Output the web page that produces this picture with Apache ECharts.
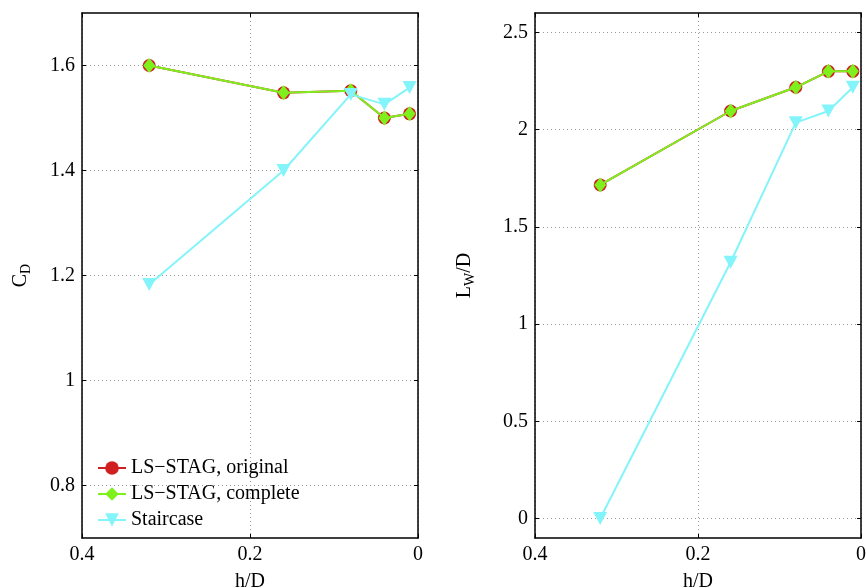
<!DOCTYPE html>
<html>
<head>
<meta charset="utf-8">
<script src="https://cdn.jsdelivr.net/npm/echarts@6/dist/echarts.min.js"></script>
<style>
html,body{margin:0;padding:0;background:#fff;}
#chart{width:866px;height:588px;}
</style>
</head>
<body>
<div id="chart"></div>
<script>
// ---- data ----
const hD = [0.32, 0.16, 0.08, 0.04, 0.01];
const cdOriginal = [1.600, 1.548, 1.552, 1.500, 1.508];
const cdComplete = [1.600, 1.548, 1.552, 1.500, 1.508];
const cdStaircase = [1.183, 1.400, 1.545, 1.526, 1.558];
const lwOriginal = [1.716, 2.096, 2.218, 2.300, 2.300];
const lwComplete = [1.716, 2.096, 2.218, 2.300, 2.300];
const lwStaircase = [0.000, 1.318, 2.036, 2.096, 2.218];
const cdTicks = [0.8, 1, 1.2, 1.4, 1.6];
const lwTicks = [0, 0.5, 1, 1.5, 2, 2.5];
const seriesNames = ['LS\u2212STAG, original', 'LS\u2212STAG, complete', 'Staircase'];

// ---- styling ----
const FONT = 'Liberation Serif';
const RED = '#d01f1f', GREEN = '#7ef01e', CYAN = '#84f4fb';
const pairs = (xs, ys) => xs.map((x, i) => [x, ys[i]]);

function xAxes(gi) {
  const base = {
    gridIndex: gi, type: 'value', min: 0, max: 0.4, interval: 0.2, inverse: true,
    axisLine: {show: true, onZero: false, lineStyle: {color: '#000', width: 1.5}},
    axisTick: {show: true, inside: true, length: 4, lineStyle: {color: '#000', width: 1}}
  };
  return [
    Object.assign({}, base, {
      position: 'bottom', name: 'h/D', nameLocation: 'middle', nameGap: 34,
      nameTextStyle: {fontFamily: FONT, fontSize: 20, color: '#000'},
      axisLabel: {show: true, fontFamily: FONT, fontSize: 20, color: '#000', margin: 7},
      splitLine: {show: true, lineStyle: {color: '#999', type: [1, 3], width: 1}}
    }),
    Object.assign({}, base, {
      position: 'top', axisLabel: {show: false}, splitLine: {show: false}
    })
  ];
}

function yAxes(gi, min, max, ticks, nameRich, gap) {
  const base = {
    gridIndex: gi, type: 'value', min: min, max: max,
    axisLine: {show: true, onZero: false, lineStyle: {color: '#000', width: 1.5}},
    axisTick: {show: true, inside: true, length: 4, customValues: ticks, lineStyle: {color: '#000', width: 1}}
  };
  return [
    Object.assign({}, base, {
      position: 'left', name: nameRich, nameLocation: 'middle', nameGap: gap, nameRotate: 90,
      nameTextStyle: {
        fontFamily: FONT, fontSize: 20, color: '#000',
        rich: {
          m: {fontFamily: FONT, fontSize: 20, color: '#000'},
          s: {fontFamily: FONT, fontSize: 14, color: '#000', padding: [10, 0, 0, 0]}
        }
      },
      axisLabel: {show: true, fontFamily: FONT, fontSize: 20, color: '#000', margin: 7, customValues: ticks},
      splitLine: {show: true, lineStyle: {color: '#999', type: [1, 3], width: 1}}
    }),
    Object.assign({}, base, {
      position: 'right', axisLabel: {show: false}, splitLine: {show: false}
    })
  ];
}

function makeSeries(xi, yi, o, c, s) {
  return [
    {
      name: seriesNames[0], type: 'line', xAxisIndex: xi, yAxisIndex: yi,
      data: pairs(hD, o), symbol: 'circle', symbolSize: 13,
      itemStyle: {color: RED}, lineStyle: {color: RED, width: 2}, z: 2
    },
    {
      name: seriesNames[1], type: 'line', xAxisIndex: xi, yAxisIndex: yi,
      data: pairs(hD, c), symbol: 'diamond', symbolSize: [12, 15],
      itemStyle: {color: GREEN}, lineStyle: {color: GREEN, width: 2}, z: 3
    },
    {
      name: seriesNames[2], type: 'line', xAxisIndex: xi, yAxisIndex: yi,
      data: pairs(hD, s), symbol: 'triangle', symbolRotate: 180, symbolSize: [14, 13],
      itemStyle: {color: CYAN}, lineStyle: {color: CYAN, width: 2}, z: 4
    }
  ];
}

const chart = echarts.init(document.getElementById('chart'), null, {renderer: 'canvas'});
chart.setOption({
  backgroundColor: '#fff',
  animation: false,
  grid: [
    {left: 82, top: 13, width: 336, height: 525, outerBoundsMode: 'none', containLabel: false},
    {left: 535, top: 13, width: 326, height: 525, outerBoundsMode: 'none', containLabel: false}
  ],
  xAxis: xAxes(0).concat(xAxes(1)),
  yAxis: yAxes(0, 0.7, 1.7, cdTicks, '{m|C}{s|D}', 49)
    .concat(yAxes(1, -0.1, 2.6, lwTicks, '{m|L}{s|W}{m|/D}', 58)),
  legend: {
    show: true, orient: 'vertical', left: 92, top: 453,
    itemWidth: 28, itemHeight: 17, itemGap: 6,
    data: seriesNames,
    textStyle: {fontFamily: FONT, fontSize: 20, color: '#000', lineHeight: 20, padding: [0, 0, 0, 0]},
    backgroundColor: 'transparent'
  },
  series: makeSeries(0, 0, cdOriginal, cdComplete, cdStaircase)
    .concat(makeSeries(2, 2, lwOriginal, lwComplete, lwStaircase))
});
</script>
</body>
</html>
